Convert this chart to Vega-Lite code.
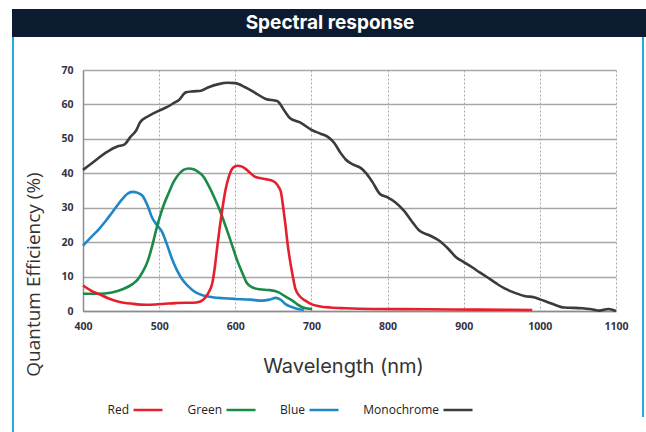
{
  "$schema": "https://vega.github.io/schema/vega-lite/v6.json",
  "padding": {"left": 10, "top": 9, "right": 0, "bottom": 0},
  "background": "white",
  "spacing": 0,
  "config": {"view": {"stroke": null}},
  "datasets": {
    "qe": [
      {"wl": 400, "qe": 41, "series": "Monochrome"},
      {"wl": 415, "qe": 43.5, "series": "Monochrome"},
      {"wl": 430, "qe": 46, "series": "Monochrome"},
      {"wl": 445, "qe": 47.8, "series": "Monochrome"},
      {"wl": 454, "qe": 48.3, "series": "Monochrome"},
      {"wl": 462, "qe": 50.5, "series": "Monochrome"},
      {"wl": 470, "qe": 52.5, "series": "Monochrome"},
      {"wl": 475, "qe": 54.8, "series": "Monochrome"},
      {"wl": 485, "qe": 56.5, "series": "Monochrome"},
      {"wl": 500, "qe": 58.2, "series": "Monochrome"},
      {"wl": 510, "qe": 59.2, "series": "Monochrome"},
      {"wl": 520, "qe": 60.5, "series": "Monochrome"},
      {"wl": 526, "qe": 61.3, "series": "Monochrome"},
      {"wl": 535, "qe": 63.5, "series": "Monochrome"},
      {"wl": 545, "qe": 63.8, "series": "Monochrome"},
      {"wl": 555, "qe": 64, "series": "Monochrome"},
      {"wl": 565, "qe": 65, "series": "Monochrome"},
      {"wl": 578, "qe": 65.9, "series": "Monochrome"},
      {"wl": 590, "qe": 66.3, "series": "Monochrome"},
      {"wl": 600, "qe": 66.2, "series": "Monochrome"},
      {"wl": 613, "qe": 65, "series": "Monochrome"},
      {"wl": 625, "qe": 63.5, "series": "Monochrome"},
      {"wl": 640, "qe": 61.6, "series": "Monochrome"},
      {"wl": 655, "qe": 61, "series": "Monochrome"},
      {"wl": 665, "qe": 58, "series": "Monochrome"},
      {"wl": 672, "qe": 56, "series": "Monochrome"},
      {"wl": 685, "qe": 54.8, "series": "Monochrome"},
      {"wl": 701, "qe": 52.5, "series": "Monochrome"},
      {"wl": 712, "qe": 51.5, "series": "Monochrome"},
      {"wl": 722, "qe": 50.5, "series": "Monochrome"},
      {"wl": 730, "qe": 48.8, "series": "Monochrome"},
      {"wl": 738, "qe": 46, "series": "Monochrome"},
      {"wl": 745, "qe": 44, "series": "Monochrome"},
      {"wl": 755, "qe": 42.5, "series": "Monochrome"},
      {"wl": 765, "qe": 41.5, "series": "Monochrome"},
      {"wl": 772, "qe": 40, "series": "Monochrome"},
      {"wl": 780, "qe": 37.5, "series": "Monochrome"},
      {"wl": 790, "qe": 34, "series": "Monochrome"},
      {"wl": 800, "qe": 33, "series": "Monochrome"},
      {"wl": 810, "qe": 31.6, "series": "Monochrome"},
      {"wl": 822, "qe": 29, "series": "Monochrome"},
      {"wl": 832, "qe": 26, "series": "Monochrome"},
      {"wl": 842, "qe": 23.3, "series": "Monochrome"},
      {"wl": 855, "qe": 22, "series": "Monochrome"},
      {"wl": 868, "qe": 20.4, "series": "Monochrome"},
      {"wl": 880, "qe": 18, "series": "Monochrome"},
      {"wl": 890, "qe": 15.6, "series": "Monochrome"},
      {"wl": 900, "qe": 14.2, "series": "Monochrome"},
      {"wl": 911, "qe": 12.7, "series": "Monochrome"},
      {"wl": 921, "qe": 11.2, "series": "Monochrome"},
      {"wl": 931, "qe": 9.8, "series": "Monochrome"},
      {"wl": 943, "qe": 8, "series": "Monochrome"},
      {"wl": 955, "qe": 6.4, "series": "Monochrome"},
      {"wl": 968, "qe": 5.2, "series": "Monochrome"},
      {"wl": 981, "qe": 4.3, "series": "Monochrome"},
      {"wl": 992, "qe": 4, "series": "Monochrome"},
      {"wl": 1001, "qe": 3.3, "series": "Monochrome"},
      {"wl": 1015, "qe": 2.2, "series": "Monochrome"},
      {"wl": 1032, "qe": 1.0, "series": "Monochrome"},
      {"wl": 1056, "qe": 0.8, "series": "Monochrome"},
      {"wl": 1070, "qe": 0.4, "series": "Monochrome"},
      {"wl": 1078, "qe": 0.1, "series": "Monochrome"},
      {"wl": 1090, "qe": 0.6, "series": "Monochrome"},
      {"wl": 1100, "qe": 0, "series": "Monochrome"},
      {"wl": 400, "qe": 19, "series": "Blue"},
      {"wl": 410, "qe": 21.3, "series": "Blue"},
      {"wl": 421, "qe": 23.8, "series": "Blue"},
      {"wl": 430, "qe": 26.2, "series": "Blue"},
      {"wl": 438.5, "qe": 28.7, "series": "Blue"},
      {"wl": 451.6, "qe": 32.5, "series": "Blue"},
      {"wl": 458, "qe": 34, "series": "Blue"},
      {"wl": 465, "qe": 34.6, "series": "Blue"},
      {"wl": 472, "qe": 34.3, "series": "Blue"},
      {"wl": 478, "qe": 33.5, "series": "Blue"},
      {"wl": 485, "qe": 30.5, "series": "Blue"},
      {"wl": 491, "qe": 27, "series": "Blue"},
      {"wl": 497, "qe": 25, "series": "Blue"},
      {"wl": 504, "qe": 22.9, "series": "Blue"},
      {"wl": 510, "qe": 19.5, "series": "Blue"},
      {"wl": 517, "qe": 15.1, "series": "Blue"},
      {"wl": 523, "qe": 12, "series": "Blue"},
      {"wl": 530, "qe": 9.3, "series": "Blue"},
      {"wl": 538, "qe": 7.2, "series": "Blue"},
      {"wl": 548, "qe": 5.4, "series": "Blue"},
      {"wl": 558, "qe": 4.5, "series": "Blue"},
      {"wl": 570, "qe": 4.0, "series": "Blue"},
      {"wl": 585, "qe": 3.7, "series": "Blue"},
      {"wl": 600, "qe": 3.5, "series": "Blue"},
      {"wl": 620, "qe": 3.3, "series": "Blue"},
      {"wl": 635, "qe": 3.0, "series": "Blue"},
      {"wl": 645, "qe": 3.3, "series": "Blue"},
      {"wl": 653, "qe": 3.8, "series": "Blue"},
      {"wl": 660, "qe": 3.2, "series": "Blue"},
      {"wl": 666, "qe": 2.0, "series": "Blue"},
      {"wl": 675, "qe": 1.1, "series": "Blue"},
      {"wl": 684, "qe": 0.5, "series": "Blue"},
      {"wl": 690, "qe": 0.3, "series": "Blue"},
      {"wl": 400, "qe": 5, "series": "Green"},
      {"wl": 420, "qe": 5.0, "series": "Green"},
      {"wl": 438, "qe": 5.4, "series": "Green"},
      {"wl": 452, "qe": 6.3, "series": "Green"},
      {"wl": 465, "qe": 7.8, "series": "Green"},
      {"wl": 472, "qe": 9.2, "series": "Green"},
      {"wl": 478, "qe": 11.2, "series": "Green"},
      {"wl": 485, "qe": 14.5, "series": "Green"},
      {"wl": 491, "qe": 19, "series": "Green"},
      {"wl": 496, "qe": 23.5, "series": "Green"},
      {"wl": 500, "qe": 26.7, "series": "Green"},
      {"wl": 506, "qe": 30.8, "series": "Green"},
      {"wl": 513, "qe": 34.5, "series": "Green"},
      {"wl": 519, "qe": 37.5, "series": "Green"},
      {"wl": 526, "qe": 39.8, "series": "Green"},
      {"wl": 532, "qe": 41, "series": "Green"},
      {"wl": 539, "qe": 41.4, "series": "Green"},
      {"wl": 546, "qe": 41.1, "series": "Green"},
      {"wl": 552, "qe": 40.3, "series": "Green"},
      {"wl": 559, "qe": 38.8, "series": "Green"},
      {"wl": 565, "qe": 36.4, "series": "Green"},
      {"wl": 572, "qe": 33.2, "series": "Green"},
      {"wl": 579, "qe": 29.6, "series": "Green"},
      {"wl": 587, "qe": 24.8, "series": "Green"},
      {"wl": 596, "qe": 19, "series": "Green"},
      {"wl": 602, "qe": 15, "series": "Green"},
      {"wl": 609, "qe": 11.2, "series": "Green"},
      {"wl": 615, "qe": 8.2, "series": "Green"},
      {"wl": 622, "qe": 6.9, "series": "Green"},
      {"wl": 632, "qe": 6.3, "series": "Green"},
      {"wl": 644, "qe": 6.1, "series": "Green"},
      {"wl": 652, "qe": 5.8, "series": "Green"},
      {"wl": 657, "qe": 5.4, "series": "Green"},
      {"wl": 665, "qe": 4.3, "series": "Green"},
      {"wl": 675, "qe": 3.0, "series": "Green"},
      {"wl": 681, "qe": 2.0, "series": "Green"},
      {"wl": 688, "qe": 1.1, "series": "Green"},
      {"wl": 695, "qe": 0.7, "series": "Green"},
      {"wl": 701, "qe": 0.5, "series": "Green"},
      {"wl": 400, "qe": 7.4, "series": "Red"},
      {"wl": 410, "qe": 6.0, "series": "Red"},
      {"wl": 421, "qe": 4.9, "series": "Red"},
      {"wl": 433, "qe": 3.7, "series": "Red"},
      {"wl": 447, "qe": 2.7, "series": "Red"},
      {"wl": 465, "qe": 2.1, "series": "Red"},
      {"wl": 482, "qe": 1.8, "series": "Red"},
      {"wl": 495, "qe": 1.9, "series": "Red"},
      {"wl": 508, "qe": 2.1, "series": "Red"},
      {"wl": 522, "qe": 2.3, "series": "Red"},
      {"wl": 535, "qe": 2.4, "series": "Red"},
      {"wl": 545, "qe": 2.4, "series": "Red"},
      {"wl": 552, "qe": 2.6, "series": "Red"},
      {"wl": 557, "qe": 3.1, "series": "Red"},
      {"wl": 561, "qe": 4, "series": "Red"},
      {"wl": 566, "qe": 5.8, "series": "Red"},
      {"wl": 570, "qe": 8.3, "series": "Red"},
      {"wl": 573, "qe": 12.5, "series": "Red"},
      {"wl": 576.5, "qe": 19, "series": "Red"},
      {"wl": 580, "qe": 25, "series": "Red"},
      {"wl": 583, "qe": 29.6, "series": "Red"},
      {"wl": 587, "qe": 35, "series": "Red"},
      {"wl": 592, "qe": 39.3, "series": "Red"},
      {"wl": 597, "qe": 41.6, "series": "Red"},
      {"wl": 603, "qe": 42.2, "series": "Red"},
      {"wl": 608, "qe": 42, "series": "Red"},
      {"wl": 614, "qe": 41.2, "series": "Red"},
      {"wl": 620, "qe": 40, "series": "Red"},
      {"wl": 625, "qe": 39.1, "series": "Red"},
      {"wl": 632, "qe": 38.6, "series": "Red"},
      {"wl": 640, "qe": 38.3, "series": "Red"},
      {"wl": 648, "qe": 37.9, "series": "Red"},
      {"wl": 653, "qe": 37.2, "series": "Red"},
      {"wl": 657, "qe": 36, "series": "Red"},
      {"wl": 660, "qe": 34.5, "series": "Red"},
      {"wl": 663, "qe": 30, "series": "Red"},
      {"wl": 666, "qe": 24.8, "series": "Red"},
      {"wl": 669, "qe": 19, "series": "Red"},
      {"wl": 673, "qe": 13.2, "series": "Red"},
      {"wl": 676, "qe": 9.5, "series": "Red"},
      {"wl": 679, "qe": 6.4, "series": "Red"},
      {"wl": 685, "qe": 4.2, "series": "Red"},
      {"wl": 692, "qe": 3.0, "series": "Red"},
      {"wl": 700, "qe": 2.0, "series": "Red"},
      {"wl": 710, "qe": 1.4, "series": "Red"},
      {"wl": 725, "qe": 1.0, "series": "Red"},
      {"wl": 745, "qe": 0.8, "series": "Red"},
      {"wl": 780, "qe": 0.6, "series": "Red"},
      {"wl": 850, "qe": 0.5, "series": "Red"},
      {"wl": 920, "qe": 0.4, "series": "Red"},
      {"wl": 990, "qe": 0.3, "series": "Red"}
    ]
  },
  "vconcat": [
    {
      "width": 636,
      "height": 28,
      "view": {"fill": "#0c1b30", "stroke": null},
      "data": {"values": [{"t": "Spectral response"}]},
      "mark": {"type": "text", "color": "white", "font": "Inter", "fontWeight": 700, "fontSize": 19},
      "encoding": {"text": {"field": "t", "type": "nominal"}}
    },
    {
      "spacing": 8,
      "hconcat": [
        {
          "width": 2,
          "height": 395,
          "view": {"fill": "#29abe2", "stroke": null},
          "data": {"values": [{}]},
          "mark": {"type": "point", "opacity": 0}
        },
        {
          "spacing": 11,
          "hconcat": [
            {
              "spacing": 0,
              "vconcat": [
                {
                  "width": 533,
                  "height": 28,
                  "data": {"values": [{}]},
                  "mark": {"type": "point", "opacity": 0}
                },
                {
                  "width": 533,
                  "height": 241,
                  "data": {"name": "qe"},
                  "mark": {"type": "line", "interpolate": "monotone", "strokeWidth": 2.6},
                  "encoding": {
                    "x": {
                      "field": "wl",
                      "type": "quantitative",
                      "scale": {"domain": [400, 1100], "nice": false, "zero": false},
                      "axis": {
                        "values": [400, 500, 600, 700, 800, 900, 1000, 1100],
                        "format": "d",
                        "labelFlush": false,
                        "grid": true,
                        "gridDash": [2, 2],
                        "gridColor": "#a8a8a8",
                        "gridWidth": 1,
                        "ticks": false,
                        "domainColor": "#8c8c8c",
                        "domainWidth": 1.5,
                        "labelFont": "Open Sans",
                        "labelFontWeight": "bold",
                        "labelFontSize": 10.5,
                        "labelColor": "#333344",
                        "labelPadding": 10,
                        "title": "Wavelength (nm)",
                        "titleFont": "Inter",
                        "titleFontWeight": "normal",
                        "titleFontSize": 20,
                        "titleColor": "#333333",
                        "titleX": 260,
                        "titleY": 55,
                        "titleAlign": "center",
                        "titleBaseline": "middle"
                      }
                    },
                    "y": {
                      "field": "qe",
                      "type": "quantitative",
                      "scale": {"domain": [0, 70], "nice": false},
                      "axis": {
                        "values": [0, 10, 20, 30, 40, 50, 60, 70],
                        "labelFlush": false,
                        "grid": true,
                        "gridColor": "#a6a6a6",
                        "gridWidth": 1.6,
                        "ticks": false,
                        "domainColor": "#8c8c8c",
                        "domainWidth": 1.5,
                        "labelFont": "Open Sans",
                        "labelFontWeight": "bold",
                        "labelFontSize": 10.5,
                        "labelColor": "#333344",
                        "labelPadding": 10,
                        "title": "Quantum Efficiency (%)",
                        "titleFont": "Open Sans",
                        "titleFontWeight": "normal",
                        "titleFontSize": 19,
                        "titleColor": "#333333",
                        "titleAngle": 270,
                        "titleX": -50,
                        "titleY": 204,
                        "titleAlign": "center",
                        "titleBaseline": "middle"
                      }
                    },
                    "color": {
                      "field": "series",
                      "type": "nominal",
                      "scale": {
                        "domain": ["Red", "Green", "Blue", "Monochrome"],
                        "range": ["#e5202e", "#1a8a48", "#1f87c6", "#3b3b3b"]
                      },
                      "legend": {
                        "orient": "none",
                        "legendX": 120,
                        "legendY": 385,
                        "direction": "horizontal",
                        "title": null,
                        "symbolType": "stroke",
                        "symbolSize": 841,
                        "symbolStrokeWidth": 2.5,
                        "labelAlign": "right",
                        "labelOffset": -35,
                        "columnPadding": 19,
                        "labelFont": "Open Sans",
                        "labelFontSize": 12,
                        "labelColor": "#222222"
                      }
                    }
                  }
                }
              ]
            },
            {
              "width": 2,
              "height": 380,
              "view": {"fill": "#29abe2", "stroke": null},
              "data": {"values": [{}]},
              "mark": {"type": "point", "opacity": 0}
            }
          ]
        }
      ]
    }
  ]
}
